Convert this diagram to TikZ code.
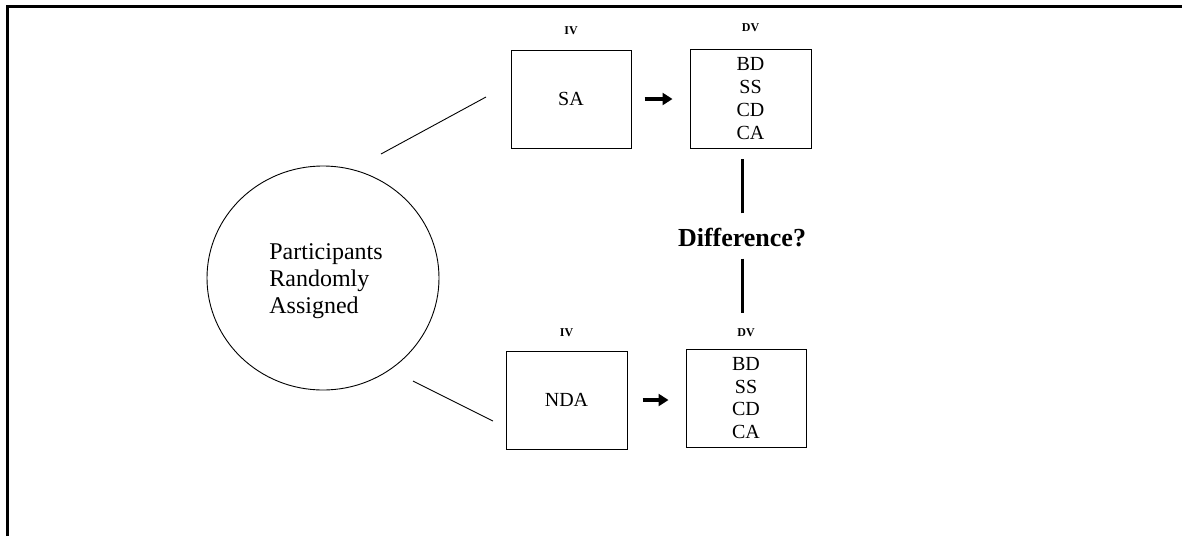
\documentclass[tikz,border=0pt]{standalone}
\usepackage{fontspec}
\setmainfont{Liberation Serif}
\usetikzlibrary{positioning,arrows.meta,shapes.geometric}

\tikzset{
  condbox/.style={draw, line width=1pt, inner sep=0pt, minimum width=120pt, minimum height=98pt},
  varlabel/.style={inner sep=0pt, font=\fontsize{12}{12}\selectfont\bfseries},
  thinline/.style={line width=0.9pt},
  gapline/.style={line width=3pt},
  fatarrow/.style={line width=3.5pt, -{Triangle[length=10pt,width=12pt]}}
}

\begin{document}
\begin{tikzpicture}[x=1pt,y=-1pt]
  \useasboundingbox (0,0) rectangle (1182,536);
  % frame, only top and left edge show
  \draw[line width=3pt] (7,536) -- (7,6) -- (1182,6);

  % participants
  \node[draw, ellipse, line width=0.9pt, minimum width=232pt, minimum height=224pt, inner sep=0pt] (part) at (323,278) {};
  \node[align=left, inner sep=0pt, font=\fontsize{24}{27}\selectfont] (parttext) at (326,281)
    {Participants\\Randomly\\Assigned};

  % condition boxes
  \node[condbox] (sa) at (571,99) {\fontsize{20}{20}\selectfont SA};
  \node[condbox, minimum width=121pt, minimum height=99pt] (dv1) at (750.5,98.5)
    {\parbox{40pt}{\centering\fontsize{20}{22.7}\selectfont BD\\SS\\CD\\CA}};
  \node[condbox, minimum width=121pt] (nda) at (566.5,400) {\fontsize{20}{20}\selectfont NDA};
  \node[condbox] (dv2) at (746,398)
    {\parbox{40pt}{\centering\fontsize{20}{22.7}\selectfont BD\\SS\\CD\\CA}};

  % IV / DV labels
  \node[varlabel, above=15pt of sa] (iv1) {IV};
  \node[varlabel, above=17pt of dv1] (dvl1) {DV};
  \node[varlabel, above=14pt of nda] (iv2) {IV};
  \node[varlabel, above=12pt of dv2] (dvl2) {DV};

  % difference
  \node[inner sep=0pt, font=\fontsize{26}{26}\selectfont\bfseries] (diff) at (742,238) {Difference?};
  \draw[gapline, shorten <=15pt, shorten >=10pt] (diff.north) -- (diff.north |- dv1.south);
  \draw[gapline, shorten <=11pt, shorten >=36pt] (diff.south) -- (diff.south |- dv2.north);

  % arrows IV -> DV
  \draw[fatarrow, shorten <=13pt, shorten >=17pt] (sa) -- (dv1.west |- sa);
  \draw[fatarrow, shorten <=15pt, shorten >=17pt] (nda) -- (dv2.west |- nda);

  % lines from the circle
  \coordinate (up1) at (381,154);
  \coordinate (up2) at (486,97);
  \coordinate (lo1) at (413,381);
  \coordinate (lo2) at (493,421);
  \draw[thinline] (up1) -- (up2);
  \draw[thinline] (lo1) -- (lo2);
\end{tikzpicture}
\end{document}
